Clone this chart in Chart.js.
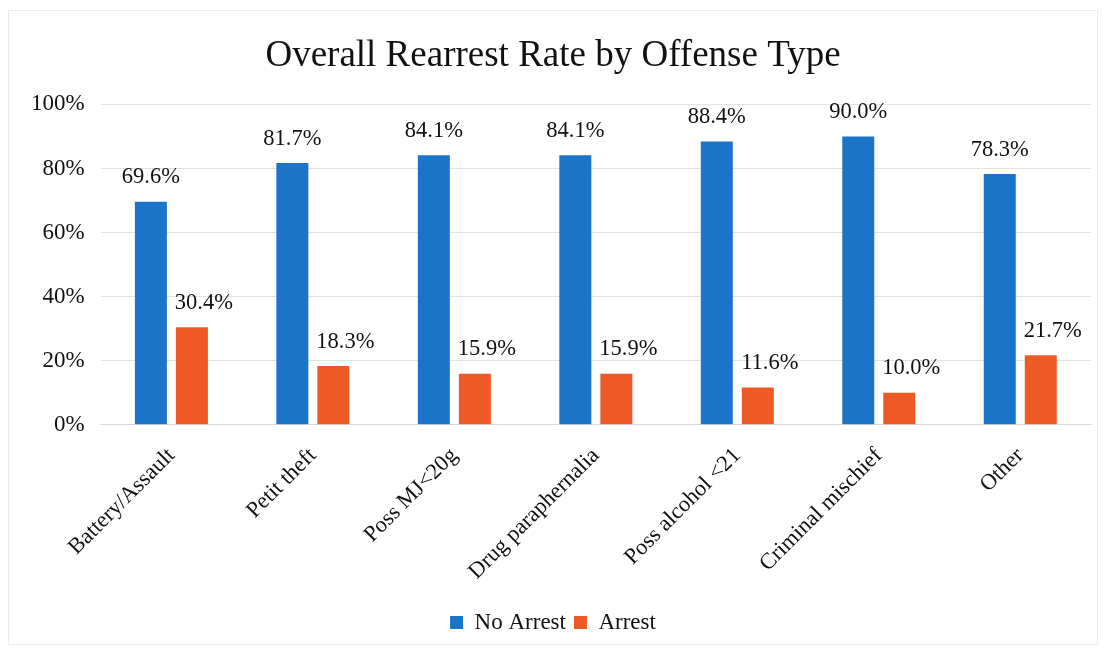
<!DOCTYPE html>
<html>
<head>
<meta charset="utf-8">
<script src="https://cdn.jsdelivr.net/npm/chart.js@4.4.1/dist/chart.umd.min.js"></script>
<style>
  html, body { margin: 0; padding: 0; background: #fff; }
  #wrap { position: absolute; left: 8px; top: 10px; width: 1090px; height: 635px; border: 1px solid #ececec; box-sizing: border-box; }
  canvas { display: block; }
</style>
</head>
<body>
<div id="wrap"><canvas id="c"></canvas></div>
<script>
const categories = ["Battery/Assault", "Petit theft", "Poss MJ<20g", "Drug paraphernalia", "Poss alcohol <21", "Criminal mischief", "Other"];
const noArrest = [69.6, 81.7, 84.1, 84.1, 88.4, 90.0, 78.3];
const arrest = [30.4, 18.3, 15.9, 15.9, 11.6, 10.0, 21.7];
const seriesNames = ["No Arrest", "Arrest"];
const yTicks = [0, 20, 40, 60, 80, 100];

const SERIF = "'Liberation Serif', 'Times New Roman', serif";

const labelPlugin = {
  id: 'barLabels',
  afterDatasetsDraw(chart) {
    const ctx = chart.ctx;
    ctx.save();
    ctx.font = "22.5px " + SERIF;
    ctx.fillStyle = "#111";
    ctx.textAlign = "center";
    ctx.textBaseline = "bottom";
    chart.data.datasets.forEach((ds, i) => {
      const meta = chart.getDatasetMeta(i);
      const dx = ds.labelOffsetX || 0;
      meta.data.forEach((bar, j) => {
        ctx.fillText(ds.data[j].toFixed(1) + "%", bar.x + dx, bar.y - 13);
      });
    });
    ctx.restore();
  }
};

new Chart(document.getElementById('c'), {
  type: 'bar',
  data: {
    labels: categories,
    datasets: [
      { label: seriesNames[0], data: noArrest, backgroundColor: '#1b74c8', labelOffsetX: 0 },
      { label: seriesNames[1], data: arrest, backgroundColor: '#ee5a26', labelOffsetX: 12 }
    ]
  },
  options: {
    responsive: true,
    maintainAspectRatio: false,
    animation: false,
    categoryPercentage: 0.58,
    barPercentage: 0.78,
    layout: { padding: { left: 6, right: 6, top: 23, bottom: 0 } },
    plugins: {
      title: {
        display: true,
        text: 'Overall Rearrest Rate by Offense Type',
        color: '#111',
        font: { family: SERIF, size: 37, weight: 'normal' },
        padding: { top: 0, bottom: 26 }
      },
      legend: {
        position: 'bottom',
        labels: {
          color: '#111',
          font: { family: SERIF, size: 23 },
          boxWidth: 13, boxHeight: 13,
          padding: 8
        }
      },
      tooltip: { enabled: false }
    },
    scales: {
      y: {
        min: 0, max: 100,
        afterBuildTicks(axis) { axis.ticks = yTicks.map(v => ({ value: v })); },
        ticks: {
          color: '#111',
          font: { family: SERIF, size: 23 },
          padding: 16,
          callback: v => v + '%'
        },
        grid: { color: '#e2e2e2', drawTicks: false },
        border: { display: false }
      },
      x: {
        ticks: {
          color: '#111',
          font: { family: SERIF, size: 22.5 },
          maxRotation: 45, minRotation: 45,
          padding: 18
        },
        grid: { display: false, drawTicks: false },
        border: { color: '#d9d9d9' }
      }
    }
  },
  plugins: [labelPlugin]
});
</script>
</body>
</html>
